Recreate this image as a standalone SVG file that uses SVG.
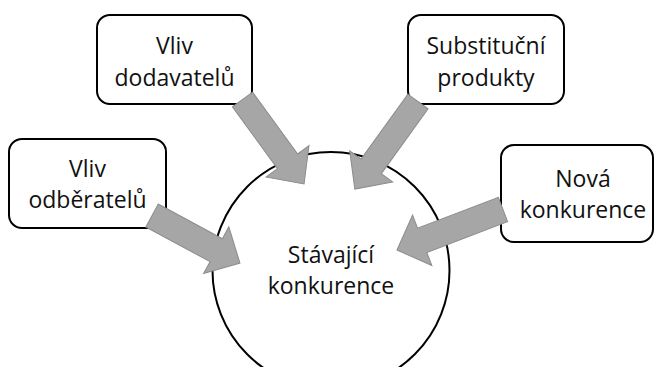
<svg xmlns="http://www.w3.org/2000/svg" width="655" height="367" viewBox="0 0 655 367">
<style>
.box{fill:#fff;stroke:#000;stroke-width:2}
.hub{fill:#fff;stroke:#000;stroke-width:2}
.t{font-family:"Open Sans","Noto Sans",sans-serif;font-size:23px;fill:#111;text-anchor:middle}
.arr{fill:#a6a6a6;stroke:#8c8c8c;stroke-width:1}
</style>
<rect width="655" height="367" fill="#fff"/>
<g id="hub">
<circle class="hub" cx="331" cy="270.5" r="118.5"/>
<text class="t" x="331" y="263">Stávající</text>
<text class="t" x="331" y="294">konkurence</text>
</g>
<g id="dodavatelu">
<rect class="box" x="97" y="15" width="155" height="89" rx="13"/>
<text class="t" x="174.5" y="54">Vliv</text>
<text class="t" x="174.5" y="86">dodavatelů</text>
</g>
<g id="substitucni">
<rect class="box" x="408" y="15" width="156" height="89" rx="13"/>
<text class="t" x="486" y="54">Substituční</text>
<text class="t" x="486" y="86">produkty</text>
</g>
<g id="odberatelu">
<rect class="box" x="9" y="139" width="157" height="89" rx="13"/>
<text class="t" x="87.5" y="177">Vliv</text>
<text class="t" x="87.5" y="208">odběratelů</text>
</g>
<g id="nova">
<rect class="box" x="501" y="145" width="152" height="97" rx="13"/>
<text class="t" x="583" y="187">Nová</text>
<text class="t" x="583" y="218">konkurence</text>
</g>
<g id="connectors">
<polygon class="arr" transform="translate(242.5,99.5) rotate(53.9)" points="0,-12.5 76.5,-12.5 76.5,-26.5 104.5,0 76.5,26.5 76.5,12.5 0,12.5"/>
<polygon class="arr" transform="translate(418,101.5) rotate(125.8)" points="0,-12.5 80,-12.5 80,-26.5 108,0 80,26.5 80,12.5 0,12.5"/>
<polygon class="arr" transform="translate(152,215.5) rotate(28.4)" points="0,-13 73,-13 73,-26.5 100,0 73,26.5 73,13 0,13"/>
<polygon class="arr" transform="translate(503,209.5) rotate(159.1)" points="0,-13 86.5,-13 86.5,-27 113.5,0 86.5,27 86.5,13 0,13"/>
</g>
</svg>
